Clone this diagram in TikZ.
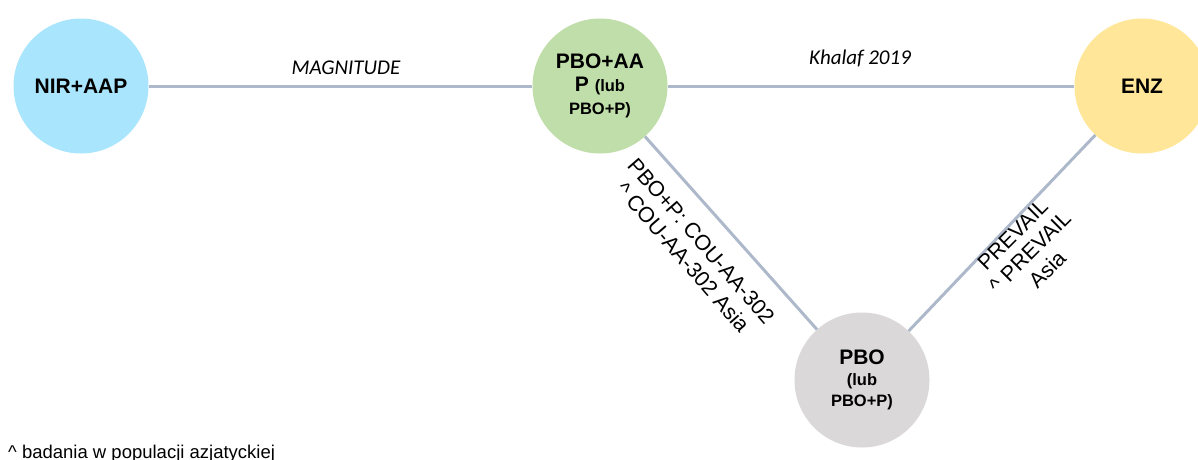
\documentclass[tikz,border=0pt]{standalone}
\usepackage{fontspec}
\setmainfont{Liberation Sans}
\newfontfamily\calib{Carlito}
\definecolor{edgecol}{HTML}{ADB9CA}
\definecolor{bluefill}{HTML}{A9E5FC}
\definecolor{greenfill}{HTML}{C0DEA9}
\definecolor{yellowfill}{HTML}{FFE699}
\definecolor{grayfill}{HTML}{DAD8D8}
\newcommand{\smalltxt}[1]{{\fontsize{16.5}{23}\selectfont #1}}
\tikzset{
  circ/.style={circle, minimum size=135pt, inner sep=0pt, draw=none, align=center,
    font=\fontsize{21}{23}\selectfont\bfseries},
  conn/.style={draw=edgecol, line width=3pt},
  elabel/.style={font=\calib\itshape\fontsize{21}{24}\selectfont, inner sep=0pt},
  rlabel/.style={font=\fontsize{21.5}{24.5}\selectfont, align=center, inner sep=0pt}
}
\begin{document}
\begin{tikzpicture}[x=1pt,y=-1pt]
\useasboundingbox (0,0) rectangle (1198,459);
\node[circ, fill=bluefill] (nir) at (81,86) {NIR+AAP};
\node[circ, fill=greenfill] (pboaap) at (600,86) {PBO+AA\\P \smalltxt{(lub}\\\smalltxt{PBO+P)}};
\node[circ, fill=yellowfill] (enz) at (1142,86) {ENZ};
\node[circ, fill=grayfill] (pbo) at (862,380) {PBO\\[-2pt]\smalltxt{(lub}\\[-2pt]\smalltxt{PBO+P)}};
\draw[conn] (nir) -- (pboaap);
\draw[conn] (pboaap) -- (enz);
\draw[conn] (pboaap) -- (pbo);
\draw[conn] (enz) -- (pbo);
\node[elabel] (lmag) at (346,68) {MAGNITUDE};
\node[elabel] (lkha) at (860,58) {Khalaf 2019};
\node[rlabel, rotate=-49] (lcou) at (692,249) {PBO+P: COU-AA-302\\\^{} COU-AA-302 Asia};
\node[rlabel, rotate=45] (lpre) at (1030,252) {PREVAIL\\\^{} PREVAIL\\Asia};
\node[anchor=base west, inner sep=0pt, font=\fontsize{18.5}{20}\selectfont] (foot) at (8,458) {\^{} badania w populacji azjatyckiej};
\end{tikzpicture}
\end{document}
